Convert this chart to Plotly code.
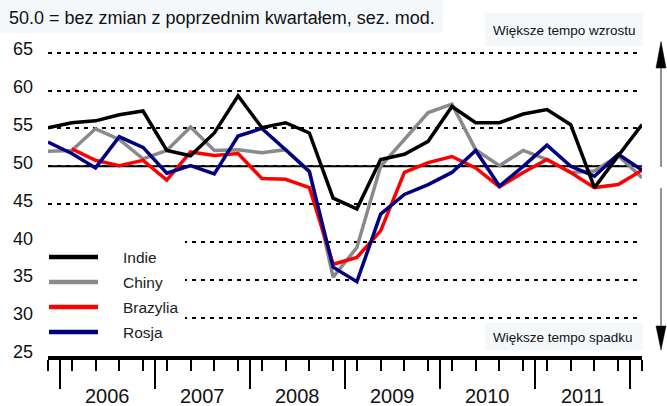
import plotly.graph_objects as go

# ---- data (quarterly, 2005Q4 .. 2012Q1) ----
quarters = ["2005Q4",
            "2006Q1", "2006Q2", "2006Q3", "2006Q4",
            "2007Q1", "2007Q2", "2007Q3", "2007Q4",
            "2008Q1", "2008Q2", "2008Q3", "2008Q4",
            "2009Q1", "2009Q2", "2009Q3", "2009Q4",
            "2010Q1", "2010Q2", "2010Q3", "2010Q4",
            "2011Q1", "2011Q2", "2011Q3", "2011Q4",
            "2012Q1"]
indie = [55.1, 55.75, 56.0, 56.8, 57.3, 52.1, 51.4, 54.4, 59.3, 55.1, 55.75, 54.4,
         45.8, 44.4, 50.9, 51.6, 53.3, 57.9, 55.75, 55.75, 56.9, 57.5, 55.5, 47.2, 51.4, 55.5]
chiny = [52.0, 52.1, 54.95, 53.55, 51.0, 52.1, 55.2, 52.1, 52.2, 51.8, 52.2, 49.4,
         35.4, 39.3, 50.0, 53.5, 57.1, 58.2, 52.2, 50.1, 52.1, 50.9, 49.2, 49.4, 51.4, 48.5]
brazylia = [None, 52.3, 50.8, 50.1, 50.8, 48.2, 51.9, 51.45, 51.7, 48.4, 48.3, 47.2,
            37.1, 38.0, 41.5, 49.2, 50.5, 51.3, 49.8, 47.3, 49.2, 50.9, 49.2, 47.2, 47.6, 49.5]
rosja = [53.2, 51.7, 49.8, 53.9, 52.5, 49.1, 50.1, 49.0, 54.0, 55.0, 52.2, 49.3,
         36.7, 34.8, 43.7, 46.3, 47.6, 49.2, 52.1, 47.4, 50.0, 52.8, 50.0, 48.7, 51.6, 49.5]

series_names = ["Indie", "Chiny", "Brazylia", "Rosja"]
series_values = [indie, chiny, brazylia, rosja]
series_colors = ["#000000", "#8a8a8a", "#ff0000", "#000080"]

years = ["2006", "2007", "2008", "2009", "2010", "2011"]
y_ticks = [25, 30, 35, 40, 45, 50, 55, 60, 65]
title_text = "50.0 = bez zmian z poprzednim kwartałem, sez. mod."
up_text = "Większe tempo wzrostu"
down_text = "Większe tempo spadku"

# ---- geometry helpers (pixels -> paper) ----
W, H = 667, 406
ML, MR, MT, MB = 48, 25, 45, 50
PW, PH = W - ML - MR, H - MT - MB


def px(x):
    return (x - ML) / PW


def py(y):
    return (H - MB - y) / PH


FONT = "Arial, Liberation Sans, sans-serif"
xs = list(range(len(quarters)))

fig = go.Figure()
draw_order = [1, 2, 3, 0]
for k in draw_order:
    fig.add_trace(go.Scatter(
        x=xs, y=series_values[k], mode="lines", name=series_names[k],
        line=dict(color=series_colors[k], width=3.5), connectgaps=False,
        showlegend=False, hoverinfo="skip"))

shapes = []
annotations = []

# backgrounds for texts
bg = "#f4f8fb"
shapes.append(dict(type="rect", xref="paper", yref="paper", x0=px(0), x1=px(443),
                   y0=py(33), y1=py(0), fillcolor=bg, line=dict(width=0), layer="above"))
shapes.append(dict(type="rect", xref="paper", yref="paper", x0=px(485), x1=px(643),
                   y0=py(46), y1=py(13), fillcolor=bg, line=dict(width=0), layer="above"))
shapes.append(dict(type="rect", xref="paper", yref="paper", x0=px(485), x1=px(643),
                   y0=py(350), y1=py(323), fillcolor=bg, line=dict(width=0), layer="above"))
# legend background (hides grid)
shapes.append(dict(type="rect", xref="paper", yref="paper", x0=px(40), x1=px(185),
                   y0=py(349), y1=py(212), fillcolor="white", line=dict(width=0), layer="above"))
# reference line at 50
shapes.append(dict(type="line", xref="paper", yref="y", x0=0, x1=1, y0=50, y1=50,
                   line=dict(color="black", width=2), layer="below"))

# arrows on the right
ax_x = 661
acol = "#6e6e6e"
shapes.append(dict(type="line", xref="paper", yref="paper", x0=px(ax_x), x1=px(ax_x),
                   y0=py(167), y1=py(66), line=dict(color=acol, width=1.5)))
shapes.append(dict(type="path", xref="paper", yref="paper",
                   path=f"M {px(ax_x)},{py(41.5)} L {px(ax_x-5)},{py(68)} L {px(ax_x+5)},{py(68)} Z",
                   fillcolor="black", line=dict(color="black", width=0.5)))
shapes.append(dict(type="line", xref="paper", yref="paper", x0=px(ax_x), x1=px(ax_x),
                   y0=py(188), y1=py(328), line=dict(color=acol, width=1.5)))
shapes.append(dict(type="path", xref="paper", yref="paper",
                   path=f"M {px(ax_x)},{py(350)} L {px(ax_x-5)},{py(326)} L {px(ax_x+5)},{py(326)} Z",
                   fillcolor="black", line=dict(color="black", width=0.5)))

# manual legend
legend_rows = [257, 282, 307, 332]
for name, color, yrow in zip(series_names, series_colors, legend_rows):
    shapes.append(dict(type="line", xref="paper", yref="paper", x0=px(49), x1=px(98),
                       y0=py(yrow), y1=py(yrow), line=dict(color=color, width=4.5)))
    annotations.append(dict(text=name, xref="paper", yref="paper", x=px(121), y=py(yrow),
                            xanchor="left", yanchor="middle", showarrow=False,
                            font=dict(family=FONT, size=15.5, color="#222")))

# texts
annotations.append(dict(text=title_text, xref="paper", yref="paper", x=px(7), y=py(18),
                        xanchor="left", yanchor="middle", showarrow=False,
                        font=dict(family=FONT, size=18, color="#111")))
annotations.append(dict(text=up_text, xref="paper", yref="paper", x=px(564), y=py(30),
                        xanchor="center", yanchor="middle", showarrow=False,
                        font=dict(family=FONT, size=13.5, color="#111")))
annotations.append(dict(text=down_text, xref="paper", yref="paper", x=px(563), y=py(337),
                        xanchor="center", yanchor="middle", showarrow=False,
                        font=dict(family=FONT, size=13.5, color="#111")))

# year labels centred under each year
for k, yr in enumerate(years):
    annotations.append(dict(text=yr, xref="x", yref="paper", x=2.5 + 4 * k, y=py(396),
                            xanchor="center", yanchor="middle", showarrow=False,
                            font=dict(family=FONT, size=20, color="#111")))

year_bounds = [0.5 + 4 * k for k in range(len(years) + 1)]

fig.update_layout(
    width=W, height=H,
    margin=dict(l=ML, r=MR, t=MT, b=MB, pad=0),
    paper_bgcolor="white", plot_bgcolor="white",
    showlegend=False,
    shapes=shapes, annotations=annotations,
    xaxis=dict(range=[0, len(quarters) - 1], showline=True, linecolor="black", linewidth=4,
               showgrid=False, zeroline=False, tickmode="array", tickvals=year_bounds,
               ticks="outside", ticklen=29, tickwidth=2, tickcolor="black",
               showticklabels=False,
               minor=dict(tickmode="array", tickvals=xs, ticks="outside", ticklen=11,
                          tickwidth=2, tickcolor="black", showgrid=False)),
    yaxis=dict(range=[25, 66], tickmode="array", tickvals=y_ticks,
               ticktext=[str(v) for v in y_ticks], ticks="", showline=False, zeroline=False,
               showgrid=True, gridcolor="black", gridwidth=1.5, griddash="4px,5px",
               tickfont=dict(family=FONT, size=18, color="#111"),
               ticklabelstandoff=14, ticklabelshift=-4),
)

fig.write_html("out.html",
               config={"displayModeBar": False},
               post_script="document.body.style.margin='0';document.body.style.padding='0';")
